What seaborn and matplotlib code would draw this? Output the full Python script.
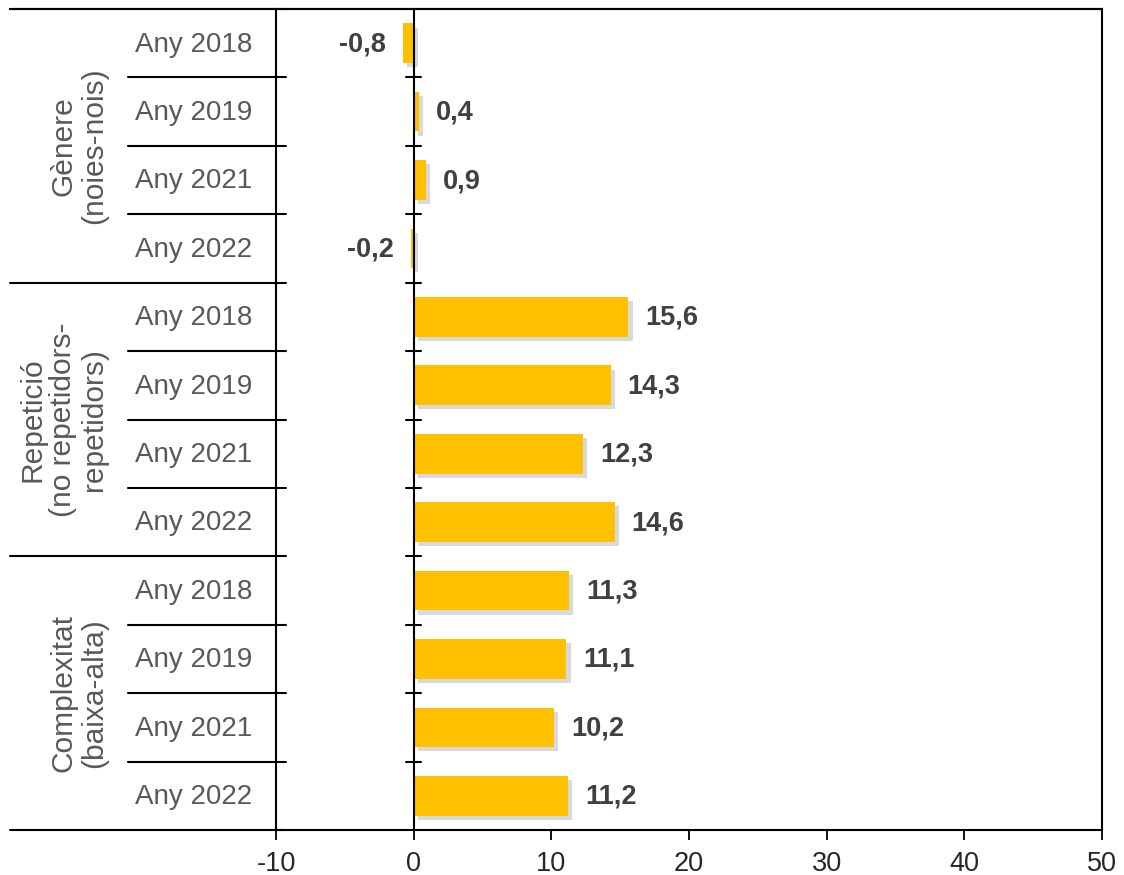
import seaborn as sns
import matplotlib.pyplot as plt
import matplotlib.patheffects as pe
import matplotlib.transforms as mtransforms
import pandas as pd

# data
groups = ['Gènere\n(noies-nois)', 'Repetició\n(no repetidors-\nrepetidors)', 'Complexitat\n(baixa-alta)']
years = ['Any 2018', 'Any 2019', 'Any 2021', 'Any 2022']
genere = [-0.8, 0.4, 0.9, -0.2]
repeticio = [15.6, 14.3, 12.3, 14.6]
complexitat = [11.3, 11.1, 10.2, 11.2]
xticks = [-10, 0, 10, 20, 30, 40, 50]

sns.set_theme(style='white')
plt.rcParams['font.family'] = ['Liberation Sans', 'DejaVu Sans']

rows = []
for g, vals in zip(groups, [genere, repeticio, complexitat]):
    for y, v in zip(years, vals):
        rows.append({'group': g, 'year': y, 'key': g + '|' + y, 'value': v})
df = pd.DataFrame(rows)

fig = plt.figure(figsize=(11.24, 8.75), dpi=100)
ax = fig.add_axes([276/1124, 45/875, 826/1124, 821/875])

sns.barplot(data=df, x='value', y='key', order=list(df['key']), orient='h',
            color='#FFC000', saturation=1, width=0.58, linewidth=0, edgecolor='none', ax=ax)

# soft shadow on the bars
for p in ax.patches:
    p.set_path_effects([pe.SimplePatchShadow(offset=(3, -3), shadow_rgbFace='#a0a0a0', alpha=0.4),
                        pe.Normal()])

ax.set_xlim(-10, 50)
ax.set_ylim(len(df) - 0.5, -0.5)
ax.set_xticks(xticks)
ax.set_xticklabels([str(t) for t in xticks], fontsize=19.5, color='#262626')
ax.tick_params(axis='x', direction='out', length=7, width=1.3, color='black', pad=8, bottom=True)
ax.set_yticks([])
ax.set_xlabel('')
ax.set_ylabel('')
for s in ax.spines.values():
    s.set_visible(True)
    s.set_color('black')
    s.set_linewidth(1.5)

# zero line with small ticks at row boundaries
ax.axvline(0, color='black', lw=1.5)
for k in range(1, len(df)):
    ax.plot([-0.55, 0.5], [k - 0.5, k - 0.5], color='black', lw=1.5)

# value labels
for i, v in enumerate(df['value']):
    txt = f'{v:.1f}'.replace('.', ',')
    if v < 0:
        ax.annotate(txt, (v, i), xytext=(-17, -1), textcoords='offset pixels',
                    ha='right', va='center', fontsize=19.5, fontweight='bold', color='#404040')
    else:
        ax.annotate(txt, (v, i), xytext=(17, -1), textcoords='offset pixels',
                    ha='left', va='center', fontsize=19.5, fontweight='bold', color='#404040')

# category label area on the left
trans = mtransforms.blended_transform_factory(ax.transAxes, ax.transData)
x_px = lambda px: (px - 276) / 826
for i, y in enumerate(df['year']):
    ax.text(x_px(135), i + 0.02, y, transform=trans, ha='left', va='center',
            fontsize=20, color='#595959')

n = len(years)
for k in range(len(df) + 1):
    if k % n == 0:
        x0 = x_px(10)
    else:
        x0 = x_px(128)
    ax.plot([x0, x_px(286)], [k - 0.5, k - 0.5], transform=trans, color='black',
            lw=1.5, clip_on=False)
ax.plot([x_px(10), 1], [-0.5, -0.5], transform=trans, color='black', lw=1.5, clip_on=False)

for j, g in enumerate(groups):
    ax.text(x_px(108), j * n + (n - 1) / 2, g, transform=trans, rotation=90,
            ha='right', va='center', multialignment='center', fontsize=21.5,
            color='#595959', linespacing=1.12)

fig.savefig('out.png', dpi=100)
